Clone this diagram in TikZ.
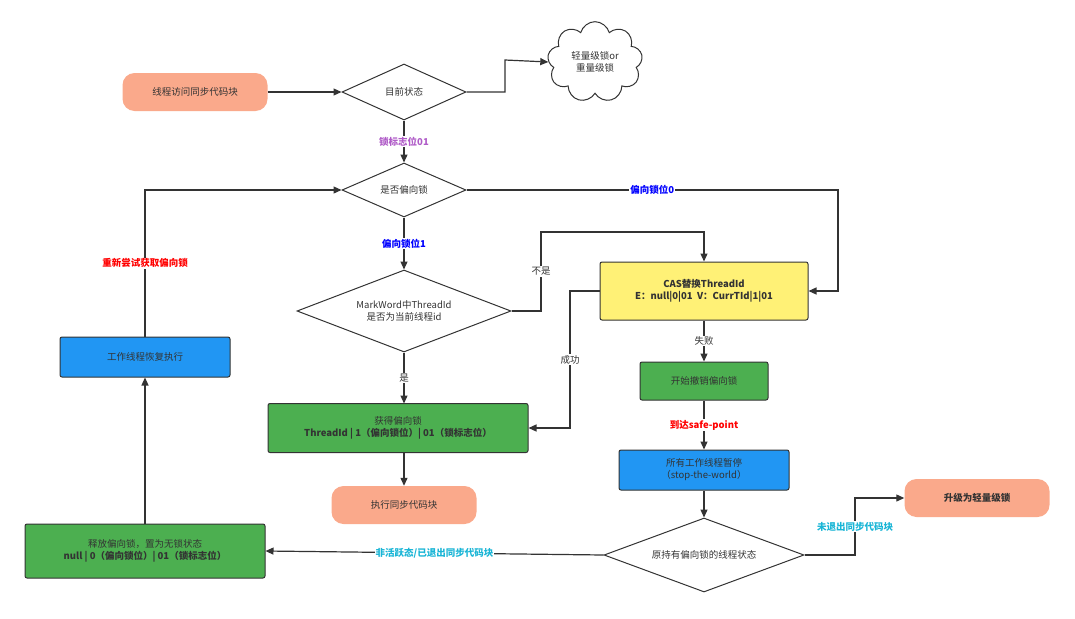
\documentclass[tikz,border=0pt]{standalone}
\usepackage{fontspec}
\setmainfont{Noto Sans CJK SC}
\usetikzlibrary{shapes.geometric,shapes.symbols,arrows.meta}
\definecolor{salmon}{HTML}{FAA98B}
\definecolor{gr}{HTML}{4CAF50}
\definecolor{bl}{HTML}{2196F3}
\definecolor{yl}{HTML}{FFF176}
\definecolor{txt}{HTML}{333333}
\definecolor{cy}{HTML}{19B5D6}
\definecolor{pu}{HTML}{B05CC8}
\begin{document}
\begin{tikzpicture}[x=1pt,y=-1pt,font=\fontsize{9.5}{12}\selectfont,text=txt,
 term/.style={rounded corners=12pt,fill=salmon,minimum width=145pt,minimum height=38pt},
 box/.style={draw=txt,line width=1pt,rounded corners=2pt,align=center},
 dia/.style={diamond,draw=txt,line width=1pt,aspect=2.2,inner sep=0pt,align=center},
 arr/.style={draw=txt,line width=1.2pt,-{Triangle[length=8pt,width=7pt]}},
 lbl/.style={fill=white,inner sep=1pt,font=\fontsize{9.5}{12}\selectfont\bfseries}]
\useasboundingbox (0,0) rectangle (1075,618);
\node[term] (start) at (195,92) {线程访问同步代码块};
\node[dia,minimum width=124pt,minimum height=56pt] (cur) at (404,92) {目前状态};
\node[cloud,draw=txt,line width=1pt,cloud puffs=9,minimum width=95pt,minimum height=62pt,align=center,inner sep=0pt] (cloud) at (595,62) {轻量级锁or\\重量级锁};
\node[dia,minimum width=124pt,minimum height=54pt] (isb) at (404,190) {是否偏向锁};
\node[dia,minimum width=214pt,minimum height=82pt] (mw) at (404,311) {MarkWord中ThreadId\\是否为当前线程id};
\node[box,fill=yl,minimum width=208pt,minimum height=58pt,font=\fontsize{9.5}{12}\selectfont\bfseries] (cas) at (704,291) {CAS替换ThreadId\\E：null|0|01\ \ V：CurrTId|1|01};
\node[box,fill=gr,minimum width=128pt,minimum height=38pt] (rev) at (704,381) {开始撤销偏向锁};
\node[box,fill=gr,minimum width=260pt,minimum height=49pt,font=\fontsize{9.5}{12}\selectfont\bfseries] (got) at (398,428) {{\mdseries 获得偏向锁}\\ThreadId | 1（偏向锁位）| 01（锁标志位）};
\node[term] (exec) at (404,505) {执行同步代码块};
\node[box,fill=bl,minimum width=170pt,minimum height=40pt] (all) at (704,470) {所有工作线程暂停\\（stop-the-world）};
\node[dia,minimum width=200pt,minimum height=74pt] (st) at (704,555) {原持有偏向锁的线程状态};
\node[term,font=\fontsize{9.5}{12}\selectfont\bfseries] (up) at (977,498) {升级为轻量级锁};
\node[box,fill=gr,minimum width=240pt,minimum height=54pt,font=\fontsize{9.5}{12}\selectfont\bfseries] (rel) at (145,551) {{\mdseries 释放偏向锁，置为无锁状态}\\null | 0（偏向锁位）| 01（锁标志位）};
\node[box,fill=bl,minimum width=170pt,minimum height=40pt] (work) at (145,357) {工作线程恢复执行};
\draw[arr] (start) -- (cur);
\draw[arr] (cur.east) -- (505,92) -- (505,60) -- (cloud.west);
\draw[arr] (cur.south) -- node[lbl,text=pu]{锁标志位01} (isb.north);
\draw[arr] (isb.east) -- node[lbl,text=blue,pos=0.5]{偏向锁位0} (838,190) -- (838,291) -- (cas.east);
\draw[arr] (isb.south) -- node[lbl,text=blue]{偏向锁位1} (mw.north);
\draw[arr] (mw.east) -- (541,311) -- node[lbl,font=\fontsize{9.5}{12}\selectfont]{不是} (541,232) -- (704,232) -- (cas.north);
\draw[arr] (cas.south) -- node[lbl,font=\fontsize{9.5}{12}\selectfont]{失败} (rev.north);
\draw[arr] (cas.west) -- (570,291) -- node[lbl,font=\fontsize{9.5}{12}\selectfont]{成功} (570,428) -- (got.east);
\draw[arr] (mw.south) -- node[lbl,font=\fontsize{9.5}{12}\selectfont]{是} (404,403.5);
\draw[arr] (404,452.5) -- (exec.north);
\draw[arr] (rev.south) -- node[lbl,text=red]{到达safe-point} (all.north);
\draw[arr] (all.south) -- (st.north);
\draw[arr] (st.east) -- (855,555) -- node[lbl,text=cy]{未退出同步代码块} (855,498) -- (up.west);
\draw[arr] (st.west) -- node[lbl,text=cy]{非活跃态/已退出同步代码块} (rel.east);
\draw[arr] (rel.north) -- (work.south);
\draw[arr] (work.north) -- node[lbl,text=red]{重新尝试获取偏向锁} (145,190) -- (isb.west);
\end{tikzpicture}
\end{document}
